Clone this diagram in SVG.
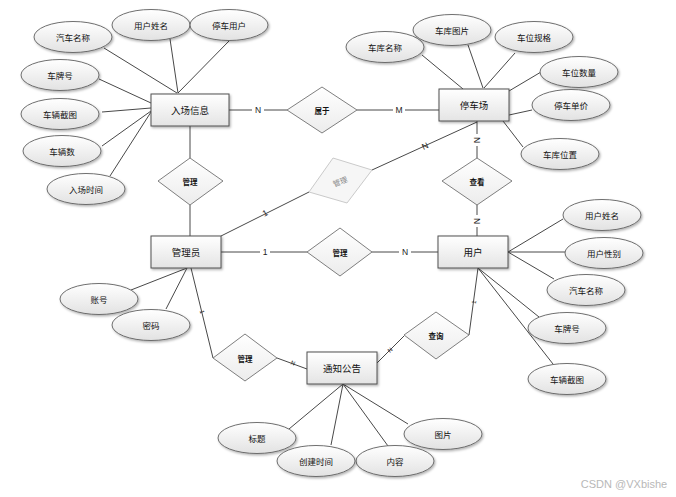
<svg xmlns="http://www.w3.org/2000/svg" width="676" height="497" viewBox="0 0 676 497">
<defs>
<linearGradient id="gEnt" x1="0" y1="0" x2="0" y2="1"><stop offset="0" stop-color="#ffffff"/><stop offset="1" stop-color="#e4e4e4"/></linearGradient>
<linearGradient id="gAttr" x1="0" y1="0" x2="0" y2="1"><stop offset="0" stop-color="#ffffff"/><stop offset="1" stop-color="#e2e2e2"/></linearGradient>
<linearGradient id="gDia" x1="0" y1="0" x2="0" y2="1"><stop offset="0" stop-color="#ffffff"/><stop offset="1" stop-color="#ececec"/></linearGradient>
<filter id="sh" x="-20%" y="-20%" width="140%" height="150%"><feDropShadow dx="1.2" dy="1.5" stdDeviation="0.8" flood-color="#000" flood-opacity="0.3"/></filter>
<style>
text{font-family:"Noto Sans CJK SC","Liberation Sans",sans-serif;text-anchor:middle;dominant-baseline:central;fill:#111}
.ent rect{fill:url(#gEnt);stroke:#505050;stroke-width:1;filter:url(#sh)}
.ent text{font-size:9.5px}
.attr ellipse{fill:url(#gAttr);stroke:#606060;stroke-width:0.9;filter:url(#sh)}
.attr text{font-size:8.5px}
.rel polygon{fill:url(#gDia);stroke:#707070;stroke-width:0.9}
.rel text{font-size:7.5px;font-weight:bold}
.faded polygon{fill:#f6f6f6;stroke:#c4c4c4;stroke-width:0.9}
.faded text{font-size:7.5px;fill:#888}
#connectors line,#connectors polyline{stroke:#333;stroke-width:0.9;fill:none}
.lbl{font-size:8.5px;font-family:"Liberation Sans",sans-serif;fill:#222}
.sm{font-size:6px;font-family:"Liberation Sans",sans-serif;fill:#222}
</style>
</defs>
<rect width="676" height="497" fill="#ffffff"/>

<g id="connectors">
<!-- 入场信息 attributes -->
<line x1="104" y1="48" x2="177" y2="93"/>
<line x1="170" y1="39" x2="178" y2="93"/>
<line x1="229" y1="41" x2="178" y2="93"/>
<line x1="99" y1="79" x2="151" y2="103"/>
<line x1="102" y1="112" x2="151" y2="108"/>
<line x1="102" y1="146" x2="151" y2="111"/>
<line x1="110" y1="176" x2="151" y2="112"/>
<!-- 停车场 attributes -->
<line x1="422" y1="55" x2="463" y2="89"/>
<line x1="468" y1="45" x2="483" y2="88"/>
<line x1="515" y1="53" x2="484" y2="88"/>
<line x1="541" y1="72" x2="509" y2="91"/>
<line x1="532" y1="110" x2="509" y2="115"/>
<line x1="523" y1="147" x2="503" y2="121"/>
<!-- 用户 attributes -->
<line x1="563" y1="219" x2="508" y2="252"/>
<line x1="565" y1="252" x2="508" y2="252"/>
<line x1="554" y1="279" x2="508" y2="252"/>
<line x1="539" y1="317" x2="478" y2="268"/>
<line x1="553" y1="364" x2="478" y2="268"/>
<!-- 通知公告 attributes -->
<line x1="289" y1="429" x2="343" y2="384"/>
<line x1="331" y1="445" x2="343" y2="384"/>
<line x1="388" y1="446" x2="343" y2="384"/>
<line x1="408" y1="424" x2="343" y2="384"/>
<!-- 管理员 attributes -->
<line x1="131" y1="290" x2="187" y2="268"/>
<line x1="166" y1="309" x2="187" y2="268"/>
<!-- relationships -->
<line x1="229" y1="110" x2="287" y2="110"/>
<line x1="357" y1="110" x2="439" y2="110"/>
<line x1="190" y1="126" x2="190" y2="158"/>
<line x1="190" y1="205" x2="190" y2="236"/>
<line x1="221" y1="236" x2="309" y2="192"/>
<line x1="372" y1="170" x2="477" y2="122"/>
<line x1="477" y1="121" x2="477" y2="158"/>
<line x1="477" y1="205" x2="477" y2="236"/>
<line x1="221" y1="252" x2="307" y2="252"/>
<line x1="372" y1="252" x2="438" y2="252"/>
<line x1="191" y1="268" x2="213" y2="358"/>
<line x1="277" y1="358" x2="307" y2="369"/>
<line x1="377" y1="363" x2="404" y2="336"/>
<line x1="469" y1="335" x2="478" y2="268"/>
</g>

<g id="labels">
<rect x="252" y="105" width="12" height="10" fill="#fff"/>
<text class="lbl" x="258" y="110">N</text>
<rect x="393" y="105" width="12" height="10" fill="#fff"/>
<text class="lbl" x="399" y="110">M</text>
<text class="lbl" x="265" y="213" transform="rotate(-27 265 213)">1</text>
<text class="lbl" x="425" y="146" transform="rotate(-25 425 146)">N</text>
<rect x="472" y="134" width="10" height="12" fill="#fff"/>
<text class="lbl" x="477" y="140" transform="rotate(90 477 140)">N</text>
<rect x="472" y="215" width="10" height="12" fill="#fff"/>
<text class="lbl" x="477" y="221" transform="rotate(90 477 221)">N</text>
<rect x="260" y="247" width="10" height="10" fill="#fff"/>
<text class="lbl" x="265" y="252">1</text>
<rect x="399" y="247" width="12" height="10" fill="#fff"/>
<text class="lbl" x="405" y="252">N</text>
<text class="sm" x="202" y="312" transform="rotate(76 202 312)">1</text>
<text class="sm" x="293" y="363" transform="rotate(20 293 363)">N</text>
<text class="sm" x="390" y="350" transform="rotate(-45 390 350)">N</text>
<text class="sm" x="474" y="302" transform="rotate(-82 474 302)">1</text>
</g>

<g id="e-ruchang" class="ent"><rect x="151" y="94" width="78" height="32"/><text x="190" y="110">入场信息</text></g>
<g id="e-tingchechang" class="ent"><rect x="439" y="89" width="70" height="32"/><text x="474" y="105">停车场</text></g>
<g id="e-guanliyuan" class="ent"><rect x="151" y="236" width="70" height="32"/><text x="186" y="252">管理员</text></g>
<g id="e-yonghu" class="ent"><rect x="438" y="236" width="70" height="32"/><text x="473" y="252">用户</text></g>
<g id="e-tongzhi" class="ent"><rect x="307" y="352" width="70" height="32"/><text x="342" y="368">通知公告</text></g>

<g id="r-shuyu" class="rel"><polygon points="322,87 357,110 322,133 287,110"/><text x="322" y="110">属于</text></g>
<g id="r-guanli1" class="rel"><polygon points="190,158 223,181 190,205 158,181"/><text x="190" y="181">管理</text></g>
<g id="r-guanli-faded" class="faded"><polygon points="333,158 372,170 347,203 309,192"/><text x="340" y="181" transform="rotate(-22 340 181)">管理</text></g>
<g id="r-chakan" class="rel"><polygon points="477,158 512,181 477,205 442,181"/><text x="477" y="181">查看</text></g>
<g id="r-guanli2" class="rel"><polygon points="340,228 372,252 340,276 307,252"/><text x="340" y="252">管理</text></g>
<g id="r-guanli3" class="rel"><polygon points="245,334 277,358 245,381 213,358"/><text x="245" y="358">管理</text></g>
<g id="r-chaxun" class="rel"><polygon points="436,312 469,335 436,359 404,335"/><text x="436" y="335">查询</text></g>

<g id="a-qichemingcheng1" class="attr"><ellipse cx="73" cy="37" rx="39" ry="15.5"/><text x="73" y="37">汽车名称</text></g>
<g id="a-yonghuxingming1" class="attr"><ellipse cx="151" cy="25" rx="39" ry="15.5"/><text x="151" y="25">用户姓名</text></g>
<g id="a-tingcheyonghu" class="attr"><ellipse cx="229" cy="25" rx="39" ry="15.5"/><text x="229" y="25">停车用户</text></g>
<g id="a-chepaihao1" class="attr"><ellipse cx="60" cy="75" rx="39" ry="15.5"/><text x="60" y="75">车牌号</text></g>
<g id="a-cheliangjietu1" class="attr"><ellipse cx="60" cy="114" rx="39" ry="15.5"/><text x="60" y="114">车辆截图</text></g>
<g id="a-cheliangshu" class="attr"><ellipse cx="62" cy="151" rx="39" ry="15.5"/><text x="62" y="151">车辆数</text></g>
<g id="a-ruchangshijian" class="attr"><ellipse cx="86" cy="189" rx="39" ry="15.5"/><text x="86" y="189">入场时间</text></g>

<g id="a-chekumingcheng" class="attr"><ellipse cx="385" cy="47" rx="39" ry="15.5"/><text x="385" y="47">车库名称</text></g>
<g id="a-chekutupian" class="attr"><ellipse cx="452" cy="30" rx="39" ry="15.5"/><text x="452" y="30">车库图片</text></g>
<g id="a-cheweiguige" class="attr"><ellipse cx="534" cy="37" rx="39" ry="15.5"/><text x="534" y="37">车位规格</text></g>
<g id="a-cheweishuliang" class="attr"><ellipse cx="579" cy="72" rx="39" ry="15.5"/><text x="579" y="72">车位数量</text></g>
<g id="a-tingchedanjia" class="attr"><ellipse cx="571" cy="105" rx="39" ry="15.5"/><text x="571" y="105">停车单价</text></g>
<g id="a-chekuweizhi" class="attr"><ellipse cx="560" cy="154" rx="39" ry="15.5"/><text x="560" y="154">车库位置</text></g>

<g id="a-yonghuxingming2" class="attr"><ellipse cx="602" cy="215" rx="39" ry="15.5"/><text x="602" y="215">用户姓名</text></g>
<g id="a-yonghuxingbie" class="attr"><ellipse cx="604" cy="253" rx="39" ry="15.5"/><text x="604" y="253">用户性别</text></g>
<g id="a-qichemingcheng2" class="attr"><ellipse cx="586" cy="290" rx="39" ry="15.5"/><text x="586" y="290">汽车名称</text></g>
<g id="a-chepaihao2" class="attr"><ellipse cx="567" cy="328" rx="39" ry="15.5"/><text x="567" y="328">车牌号</text></g>
<g id="a-cheliangjietu2" class="attr"><ellipse cx="567" cy="379" rx="39" ry="15.5"/><text x="567" y="379">车辆截图</text></g>

<g id="a-zhanghao" class="attr"><ellipse cx="99" cy="299" rx="39" ry="15.5"/><text x="99" y="299">账号</text></g>
<g id="a-mima" class="attr"><ellipse cx="151" cy="325" rx="39" ry="15.5"/><text x="151" y="325">密码</text></g>

<g id="a-biaoti" class="attr"><ellipse cx="257" cy="438" rx="39" ry="15.5"/><text x="257" y="438">标题</text></g>
<g id="a-tupian" class="attr"><ellipse cx="443" cy="434" rx="39" ry="15.5"/><text x="443" y="434">图片</text></g>
<g id="a-neirong" class="attr"><ellipse cx="395" cy="461" rx="39" ry="15.5"/><text x="395" y="461">内容</text></g>
<g id="a-chuangjianshijian" class="attr"><ellipse cx="316" cy="461" rx="39" ry="15.5"/><text x="316" y="461">创建时间</text></g>

<text x="624" y="484" style="font-size:11px;fill:#b8b8b8;font-family:'Liberation Sans',sans-serif">CSDN @VXbishe</text>
</svg>
